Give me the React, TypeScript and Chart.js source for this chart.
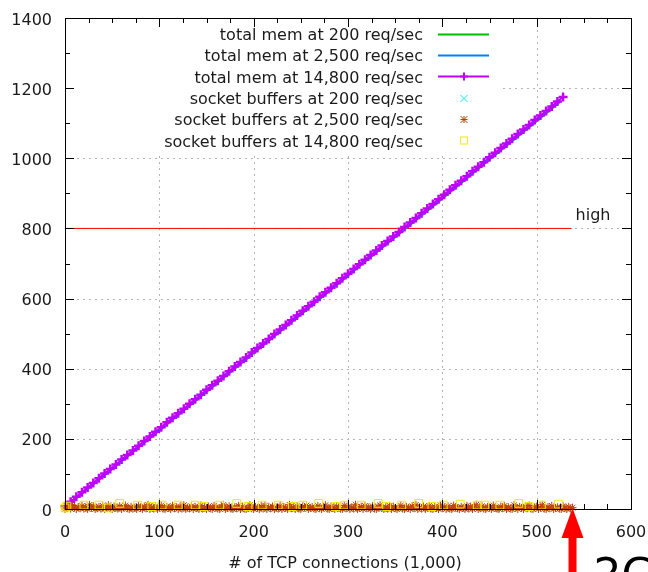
import { useEffect, useRef } from 'react';
import { Chart, registerables } from 'chart.js';

Chart.register(...registerables);

// ---------- data ----------
const X_TICKS = [0, 100, 200, 300, 400, 500, 600];
const Y_TICKS = [0, 200, 400, 600, 800, 1000, 1200, 1400];

const LEGEND_LABELS = [
  'total mem at 200 req/sec',
  'total mem at 2,500 req/sec',
  'total mem at 14,800 req/sec',
  'socket buffers at 200 req/sec',
  'socket buffers at 2,500 req/sec',
  'socket buffers at 14,800 req/sec',
];

const HIGH_LABEL = 'high';
const HIGH_X = [0, 537];
const HIGH_Y = [800, 800];

const ARROW_AT = 538;
const ARROW_LABEL = '2G';
const X_TITLE = '# of TCP connections (1,000)';

// total mem, 200 req/sec and 2,500 req/sec (1,000 connections -> MB)
const MEM_LOW_X = [0, 50, 100, 150, 200, 250, 300, 350, 400, 450, 500, 525];
const MEM_200 = [5, 114, 223, 334, 444, 554, 665, 775, 885, 996, 1106, 1161];
const MEM_2500 = [6, 115, 225, 335, 446, 556, 666, 777, 887, 998, 1108, 1163];

// total mem, 14,800 req/sec, sampled every 6 (1,000 connections)
const MEM_14800_STEP = 6;
const MEM_14800 = [
  8, 21, 35, 48, 61, 74, 88, 101, 114, 127, 141, 154, 167, 180, 194, 207, 220, 233,
  247, 260, 273, 286, 300, 313, 326, 340, 353, 366, 379, 393, 406, 419, 432, 446,
  459, 472, 485, 499, 512, 525, 538, 552, 565, 578, 591, 605, 618, 631, 644, 658,
  671, 684, 698, 711, 724, 737, 751, 764, 777, 790, 804, 817, 830, 843, 857, 870,
  883, 896, 910, 923, 936, 949, 963, 976, 989, 1003, 1016, 1029, 1042, 1056, 1069,
  1082, 1095, 1109, 1122, 1135, 1148, 1162, 1175,
];

// socket buffers, 200 req/sec, sampled every 6
const SOCK_200_STEP = 6;
const SOCK_200 = [
  1, 0, 2, 1, 0, 3, 1, 0, 2, 0, 1, 3, 0, 2, 1, 0, 1, 2, 0, 3,
  1, 0, 2, 1, 0, 1, 3, 0, 2, 1, 0, 2, 1, 0, 3, 1, 0, 2, 0, 1,
  2, 0, 1, 3, 0, 2, 1, 0, 1, 2, 0, 3, 1, 0, 2, 1, 0, 1, 2, 0,
  3, 1, 0, 2, 1, 0, 1, 3, 0, 2, 1, 0, 2, 1, 0, 3, 1, 0, 2, 1,
];

// socket buffers, 2,500 req/sec, sampled every 2
const SOCK_2500_STEP = 2;
const SOCK_2500 = [
  0, 3, 7, 1, 10, 4, 0, 6, 2, 9, 1, 5, 0, 12, 3, 8, 0, 2, 6, 1,
  9, 0, 4, 11, 2, 0, 7, 3, 1, 8, 0, 5, 10, 2, 0, 6, 1, 4, 0, 9,
  3, 0, 7, 2, 12, 0, 5, 1, 8, 0, 4, 10, 1, 0, 6, 3, 0, 9, 2, 5,
  0, 7, 1, 11, 0, 4, 2, 8, 0, 6, 3, 0, 10, 1, 5, 0, 7, 2, 0, 9,
  4, 1, 0, 6, 12, 0, 3, 8, 1, 0, 5, 2, 9, 0, 7, 1, 0, 4, 11, 2,
  0, 6, 3, 0, 8, 1, 10, 0, 5, 2, 7, 0, 4, 1, 9, 0, 6, 3, 0, 12,
  2, 5, 0, 8, 1, 0, 7, 4, 10, 0, 3, 6, 1, 0, 9, 2, 0, 5, 11, 1,
  0, 7, 3, 0, 8, 4, 1, 0, 10, 2, 6, 0, 5, 1, 12, 0, 3, 7, 0, 9,
  2, 4, 0, 8, 1, 0, 6, 11, 3, 0, 5, 1, 9, 0, 7, 2, 0, 4, 10, 1,
  0, 6, 3, 0, 8, 2, 12, 0, 5, 1, 7, 0, 4, 9, 1, 0, 6, 3, 0, 11,
  2, 5, 0, 8, 1, 0, 10, 4, 2, 0, 6, 3, 0, 9, 1, 7, 0, 5, 12, 0,
  2, 8, 1, 0, 6, 4, 0, 10, 3, 1, 0, 7, 2, 9, 0, 5, 1, 0, 11, 4,
  0, 6, 3, 0, 8, 2, 10, 1, 0, 5, 7, 0, 4, 12, 1, 0, 6, 2, 9, 0,
  3, 5, 1, 0, 8, 2, 0, 6, 1, 4,
];

// socket buffers, 14,800 req/sec
const SOCK_14800_X = [
  0, 2, 20, 36, 46, 58, 77, 92, 103, 120, 138, 147, 164, 182, 194, 209, 226, 241, 252,
  269, 287, 296, 314, 332, 341, 357, 375, 389, 401, 419, 437, 445, 461, 481, 492, 505, 523,
];
const SOCK_14800 = [
  3, 8, 11, 11, 3, 16, 11, 7, 11, 11, 11, 7, 11, 16, 7, 11, 11, 7, 11,
  16, 7, 11, 11, 16, 7, 11, 16, 7, 11, 14, 11, 11, 11, 16, 7, 11, 14,
];

// ---------- styles ----------
const C_GREEN = '#00c000';
const C_BLUE = '#0080ff';
const C_PURPLE = '#c000ff';
const C_CYAN = '#00eeee';
const C_ORANGE = '#c04000';
const C_YELLOW = '#eeee00';
const C_RED = '#ff0000';
const FONT = '16px "DejaVu Sans"';
const TEXT = '#1a1a1a';

const stepped = (vals: number[], step: number) => vals.map((v, i) => ({ x: i * step, y: v }));
const paired = (xs: number[], ys: number[]) => xs.map((x, i) => ({ x, y: ys[i] }));

function line(ctx: CanvasRenderingContext2D, x1: number, y1: number, x2: number, y2: number) {
  ctx.beginPath();
  ctx.moveTo(x1, y1);
  ctx.lineTo(x2, y2);
  ctx.stroke();
}

function marker(ctx: CanvasRenderingContext2D, kind: string, x: number, y: number, color: string) {
  ctx.save();
  ctx.strokeStyle = color;
  ctx.lineWidth = 1;
  const r = 3.5;
  if (kind === 'plus') {
    ctx.lineWidth = 2;
    line(ctx, x - 4, y, x + 4, y);
    line(ctx, x, y - 4, x, y + 4);
  } else if (kind === 'x') {
    line(ctx, x - r, y - r, x + r, y + r);
    line(ctx, x - r, y + r, x + r, y - r);
  } else if (kind === 'star') {
    line(ctx, x - r, y - r, x + r, y + r);
    line(ctx, x - r, y + r, x + r, y - r);
    line(ctx, x - r, y, x + r, y);
    line(ctx, x, y - r, x, y + r);
  } else if (kind === 'square') {
    ctx.strokeRect(x - 3.5, y - 3.5, 7, 7);
  }
  ctx.restore();
}

const gnuplotPlugin = {
  id: 'gnuplotLook',
  beforeDatasetsDraw(chart: any) {
    const { ctx, chartArea: a, scales } = chart;
    const xs = scales.x;
    const ys = scales.y;
    ctx.save();
    ctx.strokeStyle = '#b4b4b4';
    ctx.lineWidth = 1;
    ctx.setLineDash([2, 4]);
    X_TICKS.slice(1, -1).forEach((v) => {
      const px = Math.round(xs.getPixelForValue(v)) + 0.5;
      line(ctx, px, a.top, px, a.bottom);
    });
    Y_TICKS.slice(1, -1).forEach((v) => {
      const py = Math.round(ys.getPixelForValue(v)) + 0.5;
      line(ctx, a.left, py, a.right, py);
    });
    ctx.setLineDash([]);
    // opaque key box
    ctx.fillStyle = '#ffffff';
    ctx.fillRect(a.left + 11, a.top + 1, 424, 133);
    ctx.restore();
  },
  afterDatasetsDraw(chart: any) {
    const { ctx, chartArea: a, scales } = chart;
    const xs = scales.x;
    const ys = scales.y;
    ctx.save();

    // border
    ctx.strokeStyle = '#000000';
    ctx.lineWidth = 1;
    ctx.strokeRect(Math.round(a.left) + 0.5, Math.round(a.top) + 0.5, Math.round(a.right - a.left), Math.round(a.bottom - a.top));

    // ticks
    for (let v = 25; v < 600; v += 25) {
      const len = v % 100 === 0 ? 9 : 5;
      const px = Math.round(xs.getPixelForValue(v)) + 0.5;
      line(ctx, px, a.bottom, px, a.bottom - len);
      line(ctx, px, a.top, px, a.top + len);
    }
    for (let v = 100; v < 1400; v += 100) {
      const len = v % 200 === 0 ? 9 : 5;
      const py = Math.round(ys.getPixelForValue(v)) + 0.5;
      line(ctx, a.left, py, a.left + len, py);
      line(ctx, a.right, py, a.right - len, py);
    }

    // tick labels
    ctx.font = FONT;
    ctx.fillStyle = TEXT;
    ctx.textBaseline = 'alphabetic';
    ctx.textAlign = 'center';
    X_TICKS.forEach((v) => {
      ctx.fillText(String(v), xs.getPixelForValue(v), a.bottom + 28);
    });
    ctx.textAlign = 'right';
    Y_TICKS.forEach((v) => {
      ctx.fillText(String(v), a.left - 13, ys.getPixelForValue(v) + 6.5);
    });

    // axis title
    ctx.textAlign = 'center';
    ctx.fillText(X_TITLE, 345, a.bottom + 59);

    // high label
    ctx.textAlign = 'left';
    ctx.fillText(HIGH_LABEL, xs.getPixelForValue(HIGH_X[1]) + 4, ys.getPixelForValue(HIGH_Y[1]) - 8);

    // legend
    const kinds = [
      { color: C_GREEN, line: true, mark: '' },
      { color: C_BLUE, line: true, mark: '' },
      { color: C_PURPLE, line: true, mark: 'plus' },
      { color: C_CYAN, line: false, mark: 'x' },
      { color: C_ORANGE, line: false, mark: 'star' },
      { color: C_YELLOW, line: false, mark: 'square' },
    ];
    LEGEND_LABELS.forEach((label, i) => {
      const base = 40 + i * 21.35;
      ctx.fillStyle = TEXT;
      ctx.textAlign = 'right';
      ctx.fillText(label, 423, base);
      const cy = Math.round(base - 6.5) + 0.5;
      const k = kinds[i];
      if (k.line) {
        ctx.strokeStyle = k.color;
        ctx.lineWidth = 2;
        line(ctx, 438, cy, 489, cy);
      }
      if (k.mark) marker(ctx, k.mark, 464, cy, k.color);
    });

    // red arrow
    const ax = xs.getPixelForValue(ARROW_AT);
    ctx.fillStyle = C_RED;
    ctx.beginPath();
    ctx.moveTo(ax, a.bottom - 1);
    ctx.lineTo(ax + 11, a.bottom + 29);
    ctx.lineTo(ax - 11, a.bottom + 29);
    ctx.closePath();
    ctx.fill();
    ctx.fillRect(ax - 4, a.bottom + 28, 8, 80);

    // big annotation (cut by the canvas edge)
    ctx.fillStyle = '#000000';
    ctx.font = '44px "DejaVu Sans"';
    ctx.textAlign = 'left';
    ctx.fillText(ARROW_LABEL, ax + 21, a.bottom + 81);

    ctx.restore();
  },
};

export default function App() {
  const ref = useRef<HTMLCanvasElement>(null);

  useEffect(() => {
    const canvas = ref.current;
    if (!canvas) return;
    const chart = new Chart(canvas, {
      type: 'scatter',
      data: {
        datasets: [
          {
            label: LEGEND_LABELS[5],
            data: paired(SOCK_14800_X, SOCK_14800),
            pointStyle: 'rect',
            pointRadius: 5.5,
            borderColor: C_YELLOW,
            backgroundColor: 'rgba(0,0,0,0)',
            borderWidth: 1,
            clip: false,
          } as any,
          {
            label: LEGEND_LABELS[4],
            data: stepped(SOCK_2500, SOCK_2500_STEP),
            pointStyle: 'star',
            pointRadius: 4,
            borderColor: C_ORANGE,
            backgroundColor: C_ORANGE,
            borderWidth: 1,
            clip: false,
          } as any,
          {
            label: LEGEND_LABELS[3],
            data: stepped(SOCK_200, SOCK_200_STEP),
            pointStyle: 'crossRot',
            pointRadius: 3.5,
            borderColor: C_CYAN,
            backgroundColor: C_CYAN,
            borderWidth: 1,
            clip: false,
          } as any,
          {
            label: LEGEND_LABELS[2],
            data: stepped(MEM_14800, MEM_14800_STEP),
            showLine: true,
            borderColor: C_PURPLE,
            backgroundColor: C_PURPLE,
            borderWidth: 2,
            pointStyle: 'cross',
            pointRadius: 4.5,
            pointBorderWidth: 2.5,
            clip: false,
          } as any,
          {
            label: LEGEND_LABELS[1],
            data: paired(MEM_LOW_X, MEM_2500),
            showLine: true,
            borderColor: C_BLUE,
            borderWidth: 2,
            pointRadius: 0,
          } as any,
          {
            label: LEGEND_LABELS[0],
            data: paired(MEM_LOW_X, MEM_200),
            showLine: true,
            borderColor: C_GREEN,
            borderWidth: 2,
            pointRadius: 0,
          } as any,
          {
            label: HIGH_LABEL,
            data: paired(HIGH_X, HIGH_Y),
            showLine: true,
            borderColor: C_RED,
            borderWidth: 1,
            pointRadius: 0,
          } as any,
        ],
      },
      options: {
        responsive: false,
        animation: false,
        events: [],
        layout: { padding: { top: 18, right: 17, left: 0, bottom: 0 } },
        plugins: { legend: { display: false }, tooltip: { enabled: false } },
        scales: {
          x: {
            type: 'linear',
            min: 0,
            max: 600,
            ticks: { display: false, stepSize: 100 },
            grid: { display: false },
            border: { display: false },
            afterFit: (s: any) => {
              s.height = 63;
            },
          },
          y: {
            type: 'linear',
            min: 0,
            max: 1400,
            ticks: { display: false, stepSize: 200 },
            grid: { display: false },
            border: { display: false },
            afterFit: (s: any) => {
              s.width = 65;
            },
          },
        },
      } as any,
      plugins: [gnuplotPlugin],
    });
    return () => chart.destroy();
  }, []);

  return (
    <div style={{ position: 'fixed', left: 0, top: 0, width: 648, height: 572, background: '#ffffff', overflow: 'hidden' }}>
      <canvas ref={ref} width={648} height={572} style={{ display: 'block' }} />
    </div>
  );
}
